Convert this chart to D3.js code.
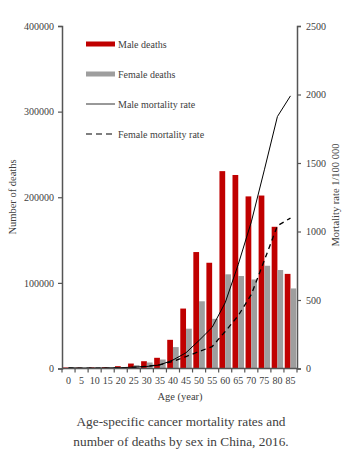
<!DOCTYPE html>
<html><head><meta charset="utf-8">
<script src="https://cdn.jsdelivr.net/npm/d3@7"></script>
<style>body{margin:0;background:#fff}svg{display:block}text{font-family:"Liberation Serif","Times New Roman",serif;fill:#404040}</style>
</head><body><svg id="c" width="359" height="462"></svg>
<script>
const ages = ["0","5","10","15","20","25","30","35","40","45","50","55","60","65","70","75","80","85"];
const maleDeaths = [1200,1000,1300,1500,2700,5800,8500,12500,33500,70000,136000,123500,230500,226000,201000,202000,165500,110500];
const femaleDeaths = [900,800,1000,1100,1500,3900,7000,10500,25000,46500,78500,58000,110000,108000,104000,120000,115000,93500];
const maleRate = [5,3,3,4,6,10,15,26,62,115,205,300,480,760,1070,1450,1839,1990];
const femaleRate = [4,2,2,3,5,9,16,28,51,87,124,160,270,386,540,790,1042,1098];
const leftTicks = [0,100000,200000,300000,400000];
const rightTicks = [0,500,1000,1500,2000,2500];

const svg = d3.select("#c");
const x0 = 62, x1 = 297, yB = 368.5, yT = 26;
const x = d3.scaleBand().domain(ages).range([x0, x1]).paddingInner(0.12).paddingOuter(0.06);
const xs = d3.scaleBand().domain(["m","f"]).range([0, x.bandwidth()]);
const yL = d3.scaleLinear().domain([0,400000]).range([yB, yT]);
const yR = d3.scaleLinear().domain([0,2500]).range([yB, yT]);
const xc = d => x(d) + x.bandwidth()/2;
const band = (x1 - x0) / ages.length;

// bars
const g = svg.append("g");
g.selectAll(".m").data(ages).join("rect")
  .attr("x", d => x(d) + xs("m")).attr("width", xs.bandwidth())
  .attr("y", (d,i) => yL(maleDeaths[i])).attr("height", (d,i) => yB - yL(maleDeaths[i]))
  .attr("fill", "#c00000");
g.selectAll(".f").data(ages).join("rect")
  .attr("x", d => x(d) + xs("f")).attr("width", xs.bandwidth())
  .attr("y", (d,i) => yL(femaleDeaths[i])).attr("height", (d,i) => yB - yL(femaleDeaths[i]))
  .attr("fill", "#9e9e9e");

// lines
const line = arr => d3.line().x((d,i) => xc(ages[i])).y(d => yR(d)).curve(d3.curveLinear)(arr);
svg.append("path").attr("d", line(maleRate)).attr("fill","none").attr("stroke","#000").attr("stroke-width",1);
svg.append("path").attr("d", line(femaleRate)).attr("fill","none").attr("stroke","#000").attr("stroke-width",1.3).attr("stroke-dasharray","5,4");

// axes
const axL = svg.append("g").attr("transform", `translate(${x0},0)`)
  .call(d3.axisLeft(yL).tickValues(leftTicks).tickSize(4).tickPadding(4).tickFormat(d3.format("d")));
const axR = svg.append("g").attr("transform", `translate(${x1},0)`)
  .call(d3.axisRight(yR).tickValues(rightTicks).tickSize(4).tickPadding(5).tickFormat(d3.format("d")));
const axB = svg.append("g").attr("transform", `translate(0,${yB})`)
  .call(d3.axisBottom(x).tickSize(0).tickPadding(8));
[axL, axR, axB].forEach(a => {
  a.select(".domain").attr("stroke", "#555").attr("stroke-width", 1.5);
  a.selectAll(".tick line").attr("stroke", "#555").attr("stroke-width", 1.2);
  a.selectAll("text").attr("font-family", "Liberation Serif").attr("font-size", 10).attr("fill", "#404040");
});
axB.select(".domain").attr("d", `M${x0},0H${x1}`);
// category boundary ticks
const bounds = d3.range(ages.length + 1).map(i => x0 + i * band);
axB.selectAll(".bt").data(bounds).join("line")
  .attr("x1", d => d).attr("x2", d => d).attr("y1", 0).attr("y2", 4)
  .attr("stroke", "#555").attr("stroke-width", 1.2);

// axis titles
svg.append("text").attr("transform", "translate(16,197) rotate(-90)").attr("text-anchor","middle").attr("font-size",10.5).text("Number of deaths");
svg.append("text").attr("transform", "translate(339,195) rotate(-90)").attr("text-anchor","middle").attr("font-size",10.5).text("Mortality rate 1/100 000");
svg.append("text").attr("x", 180).attr("y", 400).attr("text-anchor","middle").attr("font-size",10.5).text("Age (year)");

// legend
const lg = svg.append("g");
const ly = [44, 74, 104, 134];
lg.append("rect").attr("x",86).attr("y",ly[0]-2.5).attr("width",29).attr("height",5).attr("fill","#c00000");
lg.append("rect").attr("x",86).attr("y",ly[1]-2.5).attr("width",29).attr("height",5).attr("fill","#9e9e9e");
lg.append("line").attr("x1",86).attr("x2",115).attr("y1",ly[2]).attr("y2",ly[2]).attr("stroke","#333").attr("stroke-width",1);
lg.append("line").attr("x1",86).attr("x2",115).attr("y1",ly[3]).attr("y2",ly[3]).attr("stroke","#555").attr("stroke-width",1.3).attr("stroke-dasharray","6,4");
const labels = ["Male deaths","Female deaths","Male mortality rate","Female mortality rate"];
lg.selectAll(".lt").data(labels).join("text").attr("x",118).attr("y",(d,i)=>ly[i]+3.5).attr("font-size",10).text(d=>d);

// caption
svg.append("text").attr("x",181).attr("y",426).attr("text-anchor","middle").attr("font-size",13.3).text("Age-specific  cancer mortality  rates and");
svg.append("text").attr("x",181).attr("y",446).attr("text-anchor","middle").attr("font-size",13.3).text("number of deaths by sex in China, 2016.");
</script></body></html>
